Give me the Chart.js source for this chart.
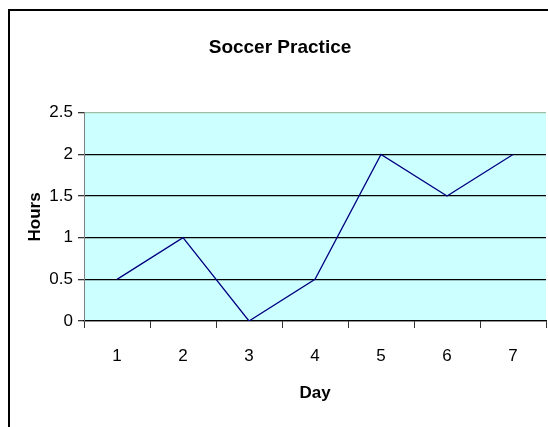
<!DOCTYPE html>
<html>
<head>
<meta charset="utf-8">
<script src="https://cdn.jsdelivr.net/npm/chart.js@4"></script>
<style>
  html, body { margin: 0; padding: 0; background: #fff; }
  #wrap { width: 548px; height: 427px; }
</style>
</head>
<body>
<div id="wrap"><canvas id="c" width="548" height="427"></canvas></div>
<script>
const chartTitle = 'Soccer Practice';
const xTitle = 'Day';
const yTitle = 'Hours';
const days = ['1', '2', '3', '4', '5', '6', '7'];
const hours = [0.5, 1, 0, 0.5, 2, 1.5, 2];
const yMin = 0, yMax = 2.5, yStep = 0.5;

const FONT = "'Liberation Sans Narrow', 'Arial Narrow', 'Liberation Sans', Arial, sans-serif";

const decor = {
  id: 'decor',
  beforeDraw(chart) {
    const { ctx, chartArea: a } = chart;
    ctx.save();
    ctx.fillStyle = '#CCFFFF';
    ctx.fillRect(a.left, a.top, a.right - a.left, a.bottom - a.top);
    ctx.strokeStyle = '#000';
    ctx.lineWidth = 2;
    ctx.strokeRect(9, 10, 700, 600);
    ctx.restore();
  }
};

new Chart(document.getElementById('c'), {
  type: 'line',
  data: {
    labels: days,
    datasets: [{
      data: hours,
      borderColor: '#000080',
      borderWidth: 1.3,
      pointRadius: 0,
      tension: 0,
      fill: false
    }]
  },
  options: {
    responsive: false,
    animation: false,
    layout: { padding: { left: 14, right: 2, top: 0, bottom: 0 } },
    plugins: {
      legend: { display: false },
      tooltip: { enabled: false },
      title: {
        display: true,
        text: chartTitle,
        color: '#000',
        font: { family: FONT, size: 19, weight: 'bold' },
        padding: { top: 36, bottom: 54 }
      }
    },
    scales: {
      x: {
        offset: true,
        grid: {
          offset: true,
          drawOnChartArea: false,
          drawTicks: true,
          tickLength: 7,
          color: '#000',
          tickColor: '#333'
        },
        border: { color: '#000', width: 1.3 },
        ticks: {
          color: '#000',
          font: { family: FONT, size: 17 },
          padding: 18,
          maxRotation: 0
        },
        title: {
          display: true,
          text: xTitle,
          color: '#000',
          font: { family: FONT, size: 17, weight: 'bold' },
          padding: { top: 0, bottom: 23 }
        },
        afterFit(scale) { scale.height = 106; }
      },
      y: {
        min: yMin,
        max: yMax,
        ticks: {
          stepSize: yStep,
          color: '#000',
          font: { family: FONT, size: 17 },
          padding: 5,
          callback: (v) => String(v)
        },
        grid: {
          color: (c) => (c.tick && c.tick.value === yMax) ? '#9DBFA5' : '#000',
          lineWidth: 1.3,
          tickLength: 6,
          tickColor: '#333'
        },
        border: { color: '#808080', width: 1 },
        title: {
          display: true,
          text: yTitle,
          color: '#000',
          font: { family: FONT, size: 17, weight: 'bold' },
          padding: { top: 11 }
        },
        afterFit(scale) { scale.width = 70; }
      }
    }
  },
  plugins: [decor]
});
</script>
</body>
</html>
